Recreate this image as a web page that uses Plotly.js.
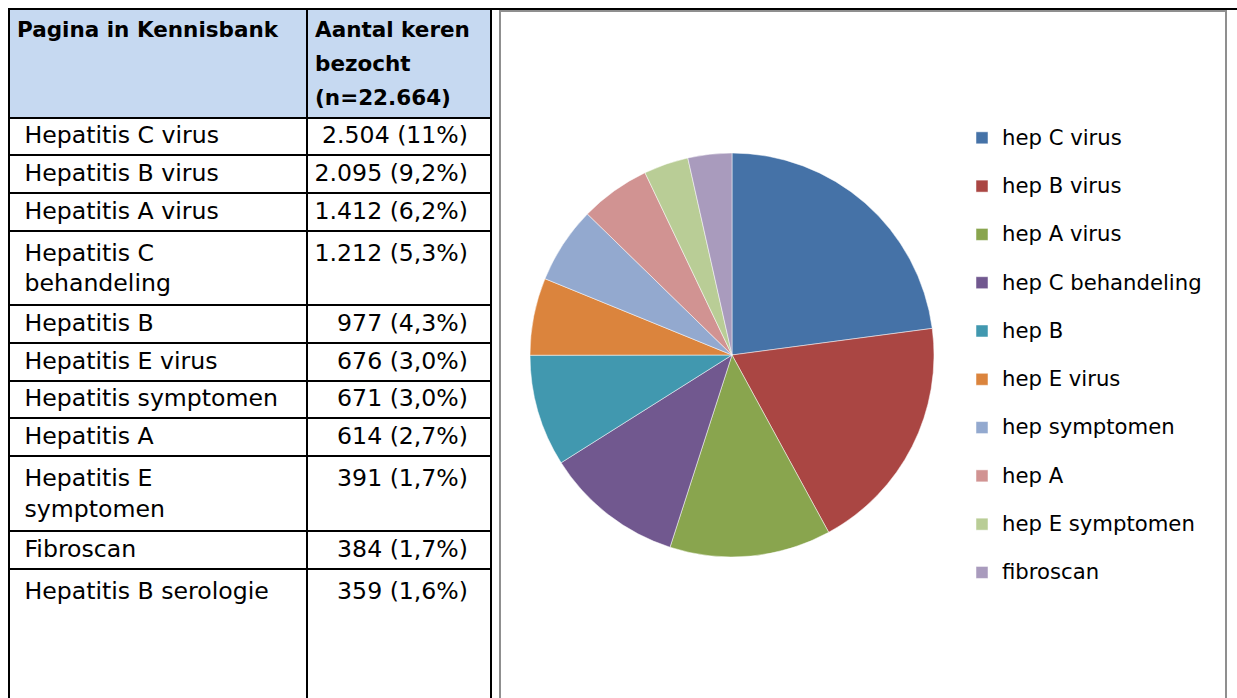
<!DOCTYPE html>
<html><head><meta charset="utf-8">
<script src="https://cdn.plot.ly/plotly-3.0.1.min.js"></script>
<style>html,body{margin:0;padding:0;background:#fff;} #chart{width:1237px;height:698px;}</style>
</head><body><div id="chart"></div>
<script>
// ---- data ----
const headerCol1 = ['Pagina in Kennisbank'];
const headerCol2 = ['Aantal keren', 'bezocht'];
const totalVisits = 22664;
const pages = ['Hepatitis C virus', 'Hepatitis B virus', 'Hepatitis A virus', 'Hepatitis C behandeling',
  'Hepatitis B', 'Hepatitis E virus', 'Hepatitis symptomen', 'Hepatitis A', 'Hepatitis E symptomen',
  'Fibroscan', 'Hepatitis B serologie'];
const visits = [2504, 2095, 1412, 1212, 977, 676, 671, 614, 391, 384, 359];
const shares = ['11%', '9,2%', '6,2%', '5,3%', '4,3%', '3,0%', '3,0%', '2,7%', '1,7%', '1,7%', '1,6%'];
const pieLabels = ['hep C virus', 'hep B virus', 'hep A virus', 'hep C behandeling', 'hep B',
  'hep E virus', 'hep symptomen', 'hep A', 'hep E symptomen', 'fibroscan'];
const pieValues = [2504, 2095, 1412, 1212, 977, 676, 671, 614, 391, 384];
const pieColors = ['#4572A7', '#AA4643', '#89A54E', '#71588F', '#4198AF', '#DB843D',
  '#93A9CF', '#D19392', '#B9CD96', '#A99BBD'];

// ---- presentation ----
const W = 1237, H = 698;
const FONT = '"DejaVu Sans", sans-serif';
const CELL_SIZE = 23.6;
const HEAD_SIZE = 21.5;
const LEGEND_SIZE = 21.2;
const wrapRows = [3, 8];
const NB = '\u00a0';
const nb = s => s.replace(/ /g, NB);
const thousands = n => String(n).replace(/\B(?=(\d{3})+(?!\d))/g, '.');

const col1 = pages.map((p, i) => {
  let lines = [p];
  if (wrapRows.includes(i)) {
    const k = p.lastIndexOf(' ');
    lines = [p.slice(0, k), p.slice(k + 1)];
  }
  let t = lines.map(l => NB + nb(l)).join('<br>');
  if (i === pages.length - 1) {
    t += '<br>' + NB + '<br>' + NB + '<br><span style="font-size:2px">' + NB + '</span>';
  }
  return t;
});
const col2 = visits.map((v, i) => {
  const t = nb(thousands(v) + ' (' + shares[i] + ')');
  return col1[i].includes('<br>') ? '<span>' + t + '</span>' : t;
});

const headLine = l => '<span style="font-size:' + HEAD_SIZE + 'px"><b>' + nb(l) + '</b></span>';
const hdr1 = headerCol1.map(headLine).join('<br>') + '<br>';
const hdr2 = headerCol2.concat(['(n=' + thousands(totalVisits) + ')']).map(headLine).join('<br>');

const legendLabels = pieLabels.map(l => '<span style="font-size:' + LEGEND_SIZE + 'px">' + l + '</span><br>');

const table = {
  type: 'table',
  domain: {x: [9 / W, 491 / W], y: [0, 1 - 9 / H]},
  columnwidth: [298, 184],
  header: {
    values: [[hdr1], [hdr2]],
    align: ['left', 'left'],
    fill: {color: '#C6D9F1'},
    line: {color: '#000', width: 2},
    font: {family: FONT, size: 26, color: '#000'},
    height: 107
  },
  cells: {
    values: [col1, col2],
    align: ['left', 'right'],
    fill: {color: '#fff'},
    line: {color: '#000', width: 2},
    font: {family: FONT, size: CELL_SIZE, color: '#000'},
    height: 37.7,
    suffix: ['', NB + NB]
  }
};

const pie = {
  type: 'pie',
  labels: legendLabels,
  values: pieValues,
  marker: {colors: pieColors, line: {color: 'rgba(255,255,255,0.7)', width: 0.7}},
  sort: false,
  direction: 'clockwise',
  rotation: 0,
  textinfo: 'none',
  hoverinfo: 'value+percent',
  domain: {x: [530 / W, 934 / W], y: [1 - 557 / H, 1 - 153 / H]}
};

const layout = {
  width: W, height: H,
  margin: {l: 0, r: 0, t: 0, b: 0},
  paper_bgcolor: '#fff',
  showlegend: true,
  legend: {
    x: 962 / W, xanchor: 'left', y: 1 - 120 / H, yanchor: 'top',
    font: {family: FONT, size: 17.42, color: '#000'},
    valign: 'top', bgcolor: 'rgba(0,0,0,0)', itemwidth: 30
  },
  shapes: [
    {type: 'rect', xref: 'paper', yref: 'paper', x0: 500 / W, x1: 1226 / W, y0: -0.05, y1: 1 - 11 / H,
      line: {color: '#8f8f8f', width: 2}, layer: 'below'},
    {type: 'line', xref: 'paper', yref: 'paper', x0: 8 / W, x1: 1, y0: 1 - 9 / H, y1: 1 - 9 / H,
      line: {color: '#000', width: 2}},
    {type: 'line', xref: 'paper', yref: 'paper', x0: 491 / W, x1: 491 / W, y0: -0.05, y1: 1 - 9 / H,
      line: {color: '#000', width: 2}}
  ]
};

Plotly.newPlot('chart', [table, pie], layout, {displayModeBar: false, staticPlot: true});
</script>
</body></html>
